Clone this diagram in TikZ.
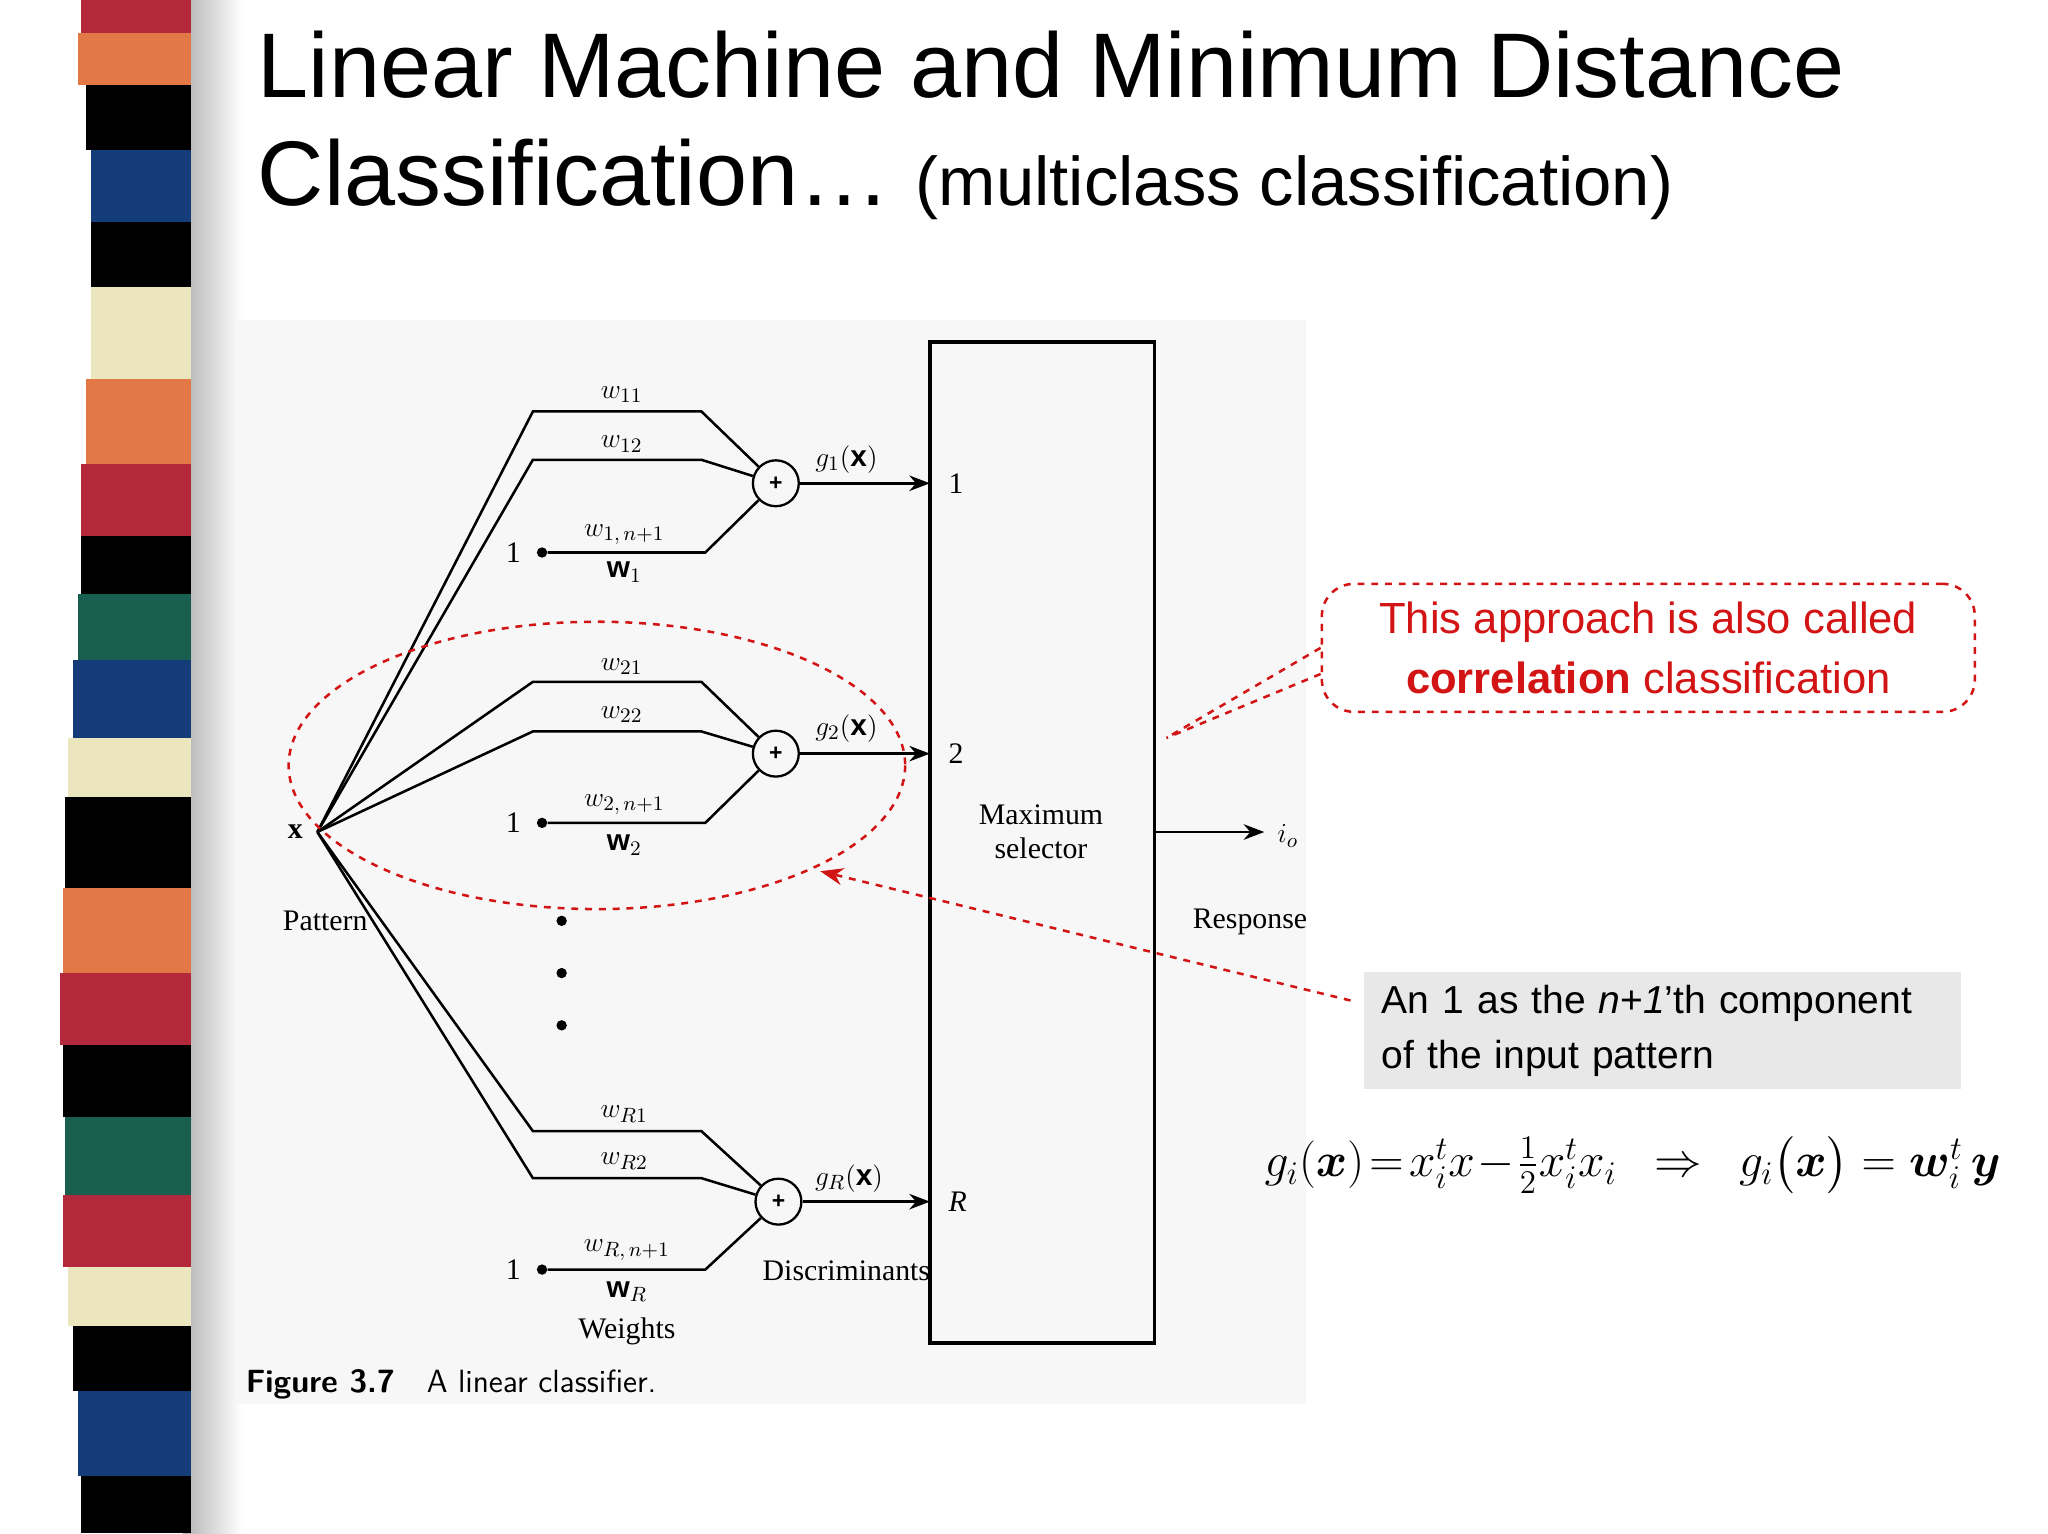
\documentclass[tikz,border=0pt]{standalone}
\usepackage{amsmath,bm}
\usepackage{fontspec}
\setmainfont{Liberation Sans}
\newfontfamily\serifb{Liberation Serif}
\usetikzlibrary{arrows.meta,calc}
\definecolor{crim}{RGB}{180,40,60}
\definecolor{oran}{RGB}{225,120,70}
\definecolor{navy}{RGB}{20,60,120}
\definecolor{teal}{RGB}{25,95,80}
\definecolor{crem}{RGB}{235,230,190}
\definecolor{redd}{RGB}{210,20,20}
\begin{document}
\begin{tikzpicture}[x=0.02cm,y=-0.02cm,
  ln/.style={line width=1.1pt},
  sumn/.style={circle,draw,line width=1pt,minimum size=20pt,inner sep=0pt},
  lab/.style={font=\serifb\fontsize{13}{15}\selectfont},
  dotn/.style={circle,fill,inner sep=1.6pt},
  arr/.style={ln,-{Stealth[length=9pt]}},
  rdash/.style={redd,dashed,line width=1.1pt}]
\useasboundingbox (0,0) rectangle (1568,1174);
\fill[white] (0,0) rectangle (1568,1174);
% stripes
\shade[left color=gray!60,right color=white] (140,0) rectangle (185,1174);
\foreach \a/\b/\c/\o in {0/25/crim/62,25/65/oran/60,65/115/black/66,115/170/navy/70,170/220/black/70,220/290/crem/70,290/355/oran/66,355/410/crim/62,410/455/black/62,455/505/teal/60,505/565/navy/56,565/610/crem/52,610/680/black/50,680/745/oran/48,745/800/crim/46,800/855/black/48,855/915/teal/50,915/970/crim/48,970/1015/crem/52,1015/1065/black/56,1065/1130/navy/60,1130/1174/black/62}
  \fill[\c] (\o,\a) rectangle (146,\b);
% title
\node[anchor=base west,inner sep=0] (t1) at (197,75) {\fontsize{40}{46}\selectfont Linear Machine and Minimum Distance};
\node[anchor=base west,inner sep=0] (t2) at (197,157) {\fontsize{40}{46}\selectfont Classification\ldots\ {\fontsize{30}{36}\selectfont(multiclass classification)}};
% figure background
\fill[gray!6] (180,245) rectangle (1000,1075);
\draw[line width=1.6pt] (712,262) rectangle (884,1028);
\node[lab,align=center] (ms) at (797,637) {Maximum\\selector};
\node[inner sep=1pt] (x) at (243,637) {};
\node[lab,anchor=east] at (238,637) {\textbf{x}};
\node[sumn] (s1) at (594,370) {\textbf{+}};
\node[sumn] (s2) at (594,577) {\textbf{+}};
\node[sumn] (s3) at (596,920) {\textbf{+}};
\foreach \s/\ya/\yb/\yc in {s1/315/352/423,s2/522/560/630,s3/866/902/972}{
  \draw[ln] (x.center) -- (408,\ya) -- (537,\ya) -- (\s);
  \draw[ln] (x.center) -- (408,\yb) -- (537,\yb) -- (\s);
  \node[dotn] (b\s) at (415,\yc) {};
  \draw[ln] (b\s) -- (540,\yc) -- (\s);
  \node[lab,anchor=east] at (405,\yc) {1};
}
\draw[arr] (s1) -- (712,370);
\draw[arr] (s2) -- (712,577);
\draw[arr] (s3) -- (712,920);
\node[lab,anchor=west] at (720,370) {1};
\node[lab,anchor=west] at (720,577) {2};
\node[lab,anchor=west] at (720,920) {\textit{R}};
\node[lab] at (648,352) {$g_1(\mathbf{x})$};
\node[lab] at (648,558) {$g_2(\mathbf{x})$};
\node[lab] at (650,902) {$g_R(\mathbf{x})$};
\node[lab] at (476,302) {$w_{11}$};
\node[lab] at (476,340) {$w_{12}$};
\node[lab] at (478,409) {$w_{1,\,n+1}$};
\node[lab] at (478,438) {$\mathbf{w}_1$};
\node[lab] at (476,510) {$w_{21}$};
\node[lab] at (476,547) {$w_{22}$};
\node[lab] at (478,616) {$w_{2,\,n+1}$};
\node[lab] at (478,647) {$\mathbf{w}_2$};
\node[lab] at (478,853) {$w_{R1}$};
\node[lab] at (478,889) {$w_{R2}$};
\node[lab] at (480,957) {$w_{R,\,n+1}$};
\node[lab] at (480,989) {$\mathbf{w}_R$};
\foreach \y in {705,745,785} \node[dotn] at (430,\y) {};
\draw[arr] (884,637) -- (968,637);
\node[lab,anchor=west] at (972,640) {$i_o$};
\node[lab] at (249,705) {Pattern};
\node[lab] at (957,706) {Response};
\node[lab] at (648,973) {Discriminants};
\node[lab] at (480,1019) {Weights};
\node[anchor=west,font=\sffamily\bfseries\fontsize{14}{16}\selectfont] at (182,1060) {Figure 3.7\quad {\mdseries A linear classifier.}};
% annotations
\draw[rdash] (457,586) ellipse [x radius=236, y radius=110];
\node (a1) at (1034,766) {};
\coordinate (a2) at (628,667);
\draw[rdash,-{Stealth[length=10pt]}] (a1.center) -- (a2);
\node[draw=redd,dashed,line width=1.1pt,rounded corners=14pt,minimum width=10cm,minimum height=1.96cm,align=center,font=\fontsize{19}{26}\selectfont,text=redd] (cb) at (1262,496) {This approach is also called\\\textbf{correlation} classification};
\coordinate (cp) at (893,565);
\draw[rdash] (cb.west) -- (cp);
\draw[rdash] ($(cb.west)+(0,20)$) -- (cp);
\node[fill=gray!18,minimum width=9.14cm,minimum height=1.78cm,text width=8.6cm,align=left,font=\fontsize{17}{24}\selectfont] (gb) at (1273,789) {An 1 as the \textit{n}+\textit{1}'th component\\of the input pattern};
\node[font=\serifb\fontsize{21}{26}\selectfont] (fm) at (1250,892) {$g_i(\bm{x})\!=\!x_i^t x\!-\!\frac{1}{2}x_i^t x_i\ \ \Rightarrow\ \ g_i\big(\bm{x}\big)=\bm{w}_i^t\,\bm{y}$};
\end{tikzpicture}
\end{document}
